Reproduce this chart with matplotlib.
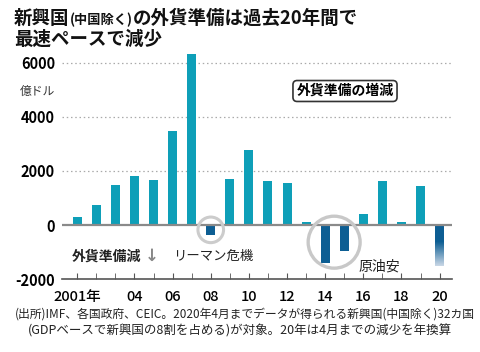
import matplotlib
matplotlib.use("Agg")
import matplotlib.pyplot as plt
import numpy as np
from matplotlib.colors import to_rgb

plt.rcParams['font.family'] = ['Noto Sans CJK JP', 'DejaVu Sans']

# データ（億ドル）
years = list(range(2001, 2021))
values = [300, 760, 1470, 1800, 1650, 3490, 6320, -360, 1700, 2760,
          1610, 1550, 120, -1390, -970, 400, 1610, 100, 1430, -1510]
tick_labels = ['2001年', '04', '06', '08', '10', '12', '14', '16', '18', '20']
tick_years = [2001, 2004, 2006, 2008, 2010, 2012, 2014, 2016, 2018, 2020]
y_ticks = [-2000, 0, 2000, 4000, 6000]
neg_years = [2008, 2014, 2015]

POS = '#0e9fb8'
NEG = '#0d5e93'

W, H = 480, 352
fig = plt.figure(figsize=(W / 100, H / 100), dpi=100)
ax = fig.add_axes([62 / W, 1 - 279.3 / H, 390 / W, (279.3 - 49) / H])

# 棒グラフ
for yr, v in zip(years, values):
    if yr == 2020:
        continue
    c = NEG if yr in neg_years else POS
    ax.bar(yr, v, width=0.47, color=c, zorder=3)

# 2020年はグラデーション
v20 = values[years.index(2020)]
bar20 = ax.bar(2020, v20, width=0.47, color='none', zorder=3)[0]
top = np.array(to_rgb(NEG))
bot = np.array(to_rgb('#c9d7e6'))
t = np.concatenate([np.zeros(40), np.linspace(0, 1, 60)])
grad = (top[None, :] * (1 - t[:, None]) + bot[None, :] * t[:, None])[:, None, :]
im = ax.imshow(grad, extent=[2020 - 0.235, 2020 + 0.235, v20, 0],
               aspect='auto', zorder=3, origin='upper')
im.set_clip_path(bar20)

ax.set_xlim(2000.2, 2020.65)
ax.set_ylim(-2000, 6500)

# 目盛り線
for yv in [2000, 4000, 6000]:
    ax.axhline(yv, color='#aaaaaa', lw=0.9, ls=(0, (1.2, 2.2)), zorder=1)
ax.axhline(0, color='#8a8a8a', lw=1.6, zorder=4)

for s in ['top', 'right', 'left']:
    ax.spines[s].set_visible(False)
ax.spines['bottom'].set_position(('data', -2000))
ax.spines['bottom'].set_color('#555555')
ax.spines['bottom'].set_linewidth(1.2)

ax.set_yticks(y_ticks)
ax.set_yticklabels([str(v) for v in y_ticks], fontsize=10.5, fontweight='bold')
ax.tick_params(axis='y', length=0, pad=5)

ax.set_xticks(years, minor=True)
ax.set_xticks(tick_years)
ax.set_xticklabels(tick_labels, fontsize=10.5, fontweight='medium')
ax.tick_params(axis='x', which='both', direction='in', length=4, color='#555555', pad=8)

# 丸印
ax.scatter([2008], [-175], s=340, facecolors='none', edgecolors='#cccccc',
           linewidths=2.2, zorder=5)
ax.scatter([2014.47], [-630], s=1400, facecolors='none', edgecolors='#c8c8c8',
           linewidths=2.4, zorder=5)

# 注記
ax.text(2000.7, -1150, '外貨準備減', fontsize=10, fontweight='bold', color='#222222',
        va='center', ha='left')
ax.text(2004.55, -1150, '↓', fontsize=12, fontweight='bold', color='#888888',
        va='center', ha='left', family=['DejaVu Sans'])
ax.text(2006.0, -1150, 'リーマン危機', fontsize=9.6, color='#222222', va='center', ha='left')
ax.text(2015.75, -1520, '原油安', fontsize=10, color='#222222', va='center', ha='left')

fig.text(345 / W, 1 - 91 / H, '外貨準備の増減', fontsize=10, fontweight='bold',
         ha='center', va='center',
         bbox=dict(boxstyle='round,pad=0.25,rounding_size=0.3', fc='white',
                   ec='#333333', lw=1.2))

fig.text(20 / W, 1 - 91 / H, '億ドル', fontsize=8.5, color='#333333', ha='left', va='center')

# タイトル（サイズ混在）
renderer = fig.canvas.get_renderer()
x = 14
pieces = [('新興国', 13.3), ('(中国除く)', 9.5), ('の外貨準備は過去20年間で', 13.3)]
for txt, sz in pieces:
    tt = fig.text(x / W, 1 - 24 / H, txt, fontsize=sz, fontweight='bold',
                  color='#111111', va='baseline', ha='left')
    x += tt.get_window_extent(renderer).width
fig.text(14 / W, 1 - 45 / H, '最速ペースで減少', fontsize=13.3, fontweight='bold',
         color='#111111', va='baseline', ha='left')

# 出所
fig.text(245 / W, 1 - 314 / H,
         '(出所)IMF、各国政府、CEIC。2020年4月までデータが得られる新興国(中国除く)32カ国',
         fontsize=8.5, color='#222222', ha='center', va='center')
fig.text(240 / W, 1 - 331 / H,
         '(GDPベースで新興国の8割を占める)が対象。20年は4月までの減少を年換算',
         fontsize=9.0, color='#222222', ha='center', va='center')

fig.savefig('out.png', dpi=100)
